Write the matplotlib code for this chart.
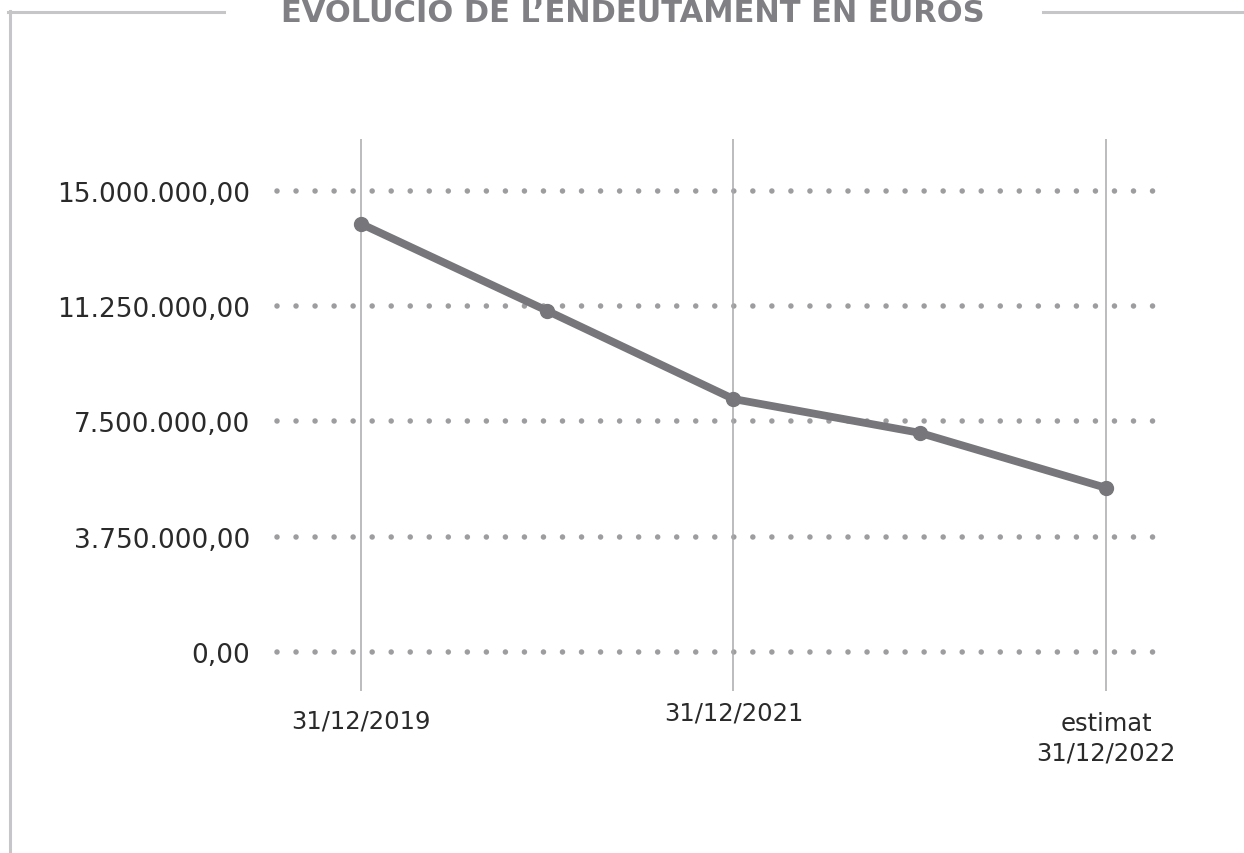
import numpy as np
import matplotlib.pyplot as plt
from matplotlib.lines import Line2D
from matplotlib.transforms import ScaledTranslation

# data
debt = [13.93e6, 11.10e6, 8.23e6, 7.13e6, 5.34e6]
y_ticks = [0, 3.75e6, 7.5e6, 11.25e6, 15e6]
y_labels = ["0,00", "3.750.000,00", "7.500.000,00", "11.250.000,00", "15.000.000,00"]
x_ticks = [0, 2, 4]
x_labels = ["31/12/2019", "31/12/2021", "estimat\n31/12/2022"]
title = "EVOLUCIÓ DE L\u2019ENDEUTAMENT EN EUROS"

W, H = 1244, 854
fig = plt.figure(figsize=(W / 100, H / 100), dpi=100)
ax = fig.add_axes([277 / W, 1 - 692 / H, (1168 - 277) / W, (692 - 140) / H])

line_col = "#77777b"
dot_col = "#9d9da0"
grid_col = "#a9a9ac"
text_col = "#2a2a2a"

# dotted horizontal gridlines
for yv in y_ticks:
    ax.axhline(yv, color=dot_col, lw=4.0, linestyle=(0, (0.001, 13.7 / 4.0)),
               dash_capstyle="round", clip_on=False, zorder=1)
# thin vertical lines at the labelled dates
for xv in x_ticks:
    ax.axvline(xv, color=grid_col, lw=1.1, zorder=2)

x = np.arange(len(debt))
ax.plot(x, debt, color=line_col, lw=5.6, marker="o", markersize=10,
        solid_capstyle="round", zorder=3)

ax.set_xlim(-0.451, 4.333)
ax.set_ylim(-1.27e6, 16.69e6)
ax.set_yticks(y_ticks, y_labels)
ax.set_xticks(x_ticks, x_labels)
ax.tick_params(axis="y", length=0, pad=19.4, labelsize=19, labelcolor=text_col)
ax.tick_params(axis="x", length=0, pad=7, labelsize=17.5, labelcolor=text_col)
for s in ax.spines.values():
    s.set_visible(False)

# labels sit at slightly different heights in the original
shifts = [-8, 0, -10]
for lab, dy in zip(ax.get_xticklabels(), shifts):
    lab.set_transform(lab.get_transform() + ScaledTranslation(0, dy / 100, fig.dpi_scale_trans))
    lab.set_linespacing(1.3)

# frame around the title
frame_col = "#c6c6c8"
fig.add_artist(Line2D([8 / W, 224 / W], [1 - 13 / H, 1 - 13 / H], color=frame_col, lw=2.2))
fig.add_artist(Line2D([1043 / W, 1], [1 - 13 / H, 1 - 13 / H], color=frame_col, lw=2.2))
fig.add_artist(Line2D([10 / W, 10 / W], [0, 1 - 12 / H], color=frame_col, lw=2.2))

fig.text(633 / W, 1 - 22 / H, title, ha="center", va="baseline", fontsize=22,
         fontweight="bold", color="#808084")

fig.savefig("out.png", dpi=100)
